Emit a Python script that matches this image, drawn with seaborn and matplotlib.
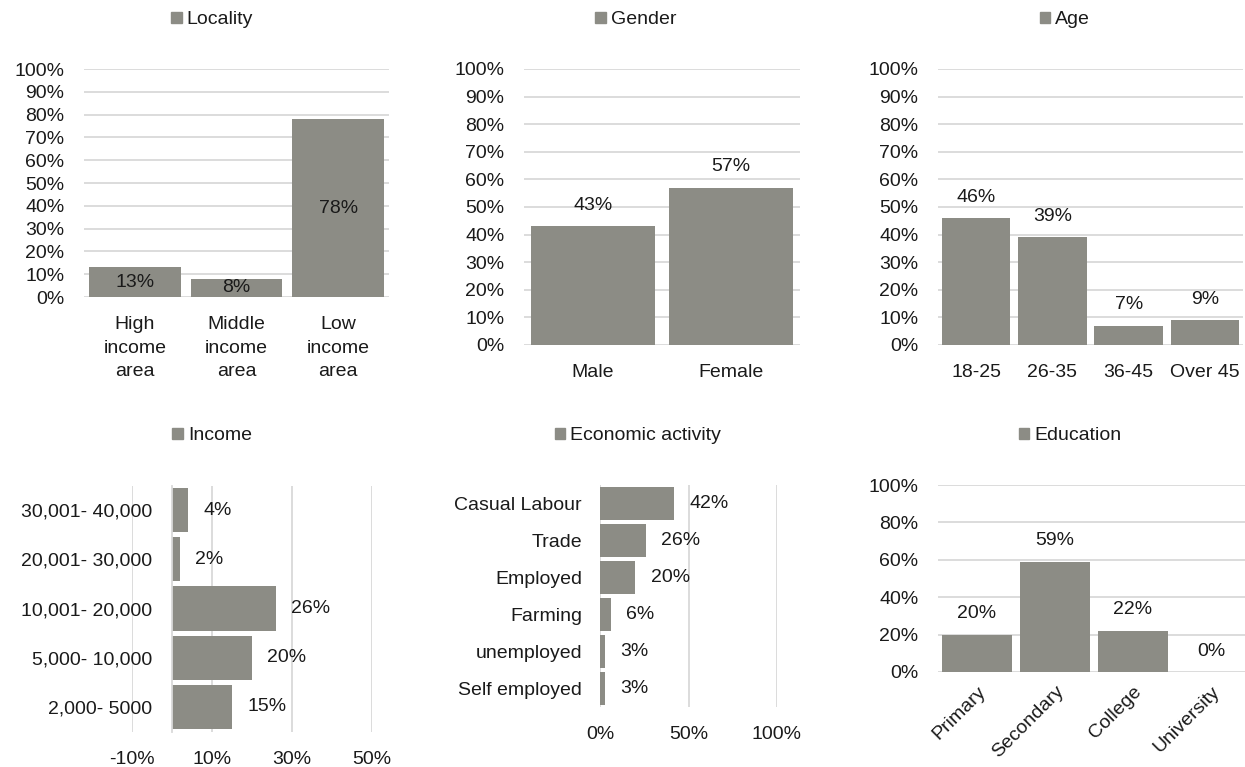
import matplotlib
matplotlib.use("Agg")
import matplotlib.pyplot as plt
import matplotlib.patches as mpatches
from matplotlib.ticker import FuncFormatter
import seaborn as sns

# ---- data ----
locality_cats = ["High\nincome\narea", "Middle\nincome\narea", "Low\nincome\narea"]
locality_vals = [13, 8, 78]
gender_cats = ["Male", "Female"]
gender_vals = [43, 57]
age_cats = ["18-25", "26-35", "36-45", "Over 45"]
age_vals = [46, 39, 7, 9]
income_cats = ["30,001- 40,000", "20,001- 30,000", "10,001- 20,000", "5,000- 10,000", "2,000- 5000"]
income_vals = [4, 2, 26, 20, 15]
econ_cats = ["Casual Labour", "Trade", "Employed", "Farming", "unemployed", "Self employed"]
econ_vals = [42, 26, 20, 6, 3, 3]
edu_cats = ["Primary", "Secondary", "College", "University"]
edu_vals = [20, 59, 22, 0]

sns.set_style("white")
plt.rcParams["font.family"] = ["Liberation Sans", "DejaVu Sans"]
FS = 14
BAR = "#8c8c85"
GRID = "#d9d9d9"
TXT = "#1a1a1a"

W, H = 1245, 767
fig = plt.figure(figsize=(W / 100, H / 100), dpi=100)


def add_ax(left, right, top, bottom):
    return fig.add_axes([left / W, (H - bottom) / H, (right - left) / W, (bottom - top) / H])


pct = FuncFormatter(lambda v, p: f"{v:.0f}%")


def style_common(ax):
    for s in ax.spines.values():
        s.set_visible(False)
    ax.tick_params(length=0, labelsize=FS, colors=TXT)
    ax.set_xlabel("")
    ax.set_ylabel("")
    ax.set_axisbelow(True)


def legend(ax, name, cx, cy):
    h = mpatches.Patch(color=BAR, label=name)
    ax.legend(handles=[h], loc="center", bbox_to_anchor=(cx / W, (H - cy) / H),
              bbox_transform=fig.transFigure, frameon=False, fontsize=FS,
              handlelength=0.55, handleheight=0.55, handletextpad=0.25, borderpad=0,
              labelcolor=TXT)


def vbar(ax, cats, vals, yticks, label_type, name, lc, xpad, rot=0):
    sns.barplot(x=cats, y=vals, ax=ax, color=BAR, width=0.9, saturation=1, linewidth=0)
    style_common(ax)
    ax.set_ylim(0, 100)
    ax.set_yticks(yticks)
    ax.yaxis.set_major_formatter(pct)
    ax.tick_params(axis="y", pad=14)
    ax.tick_params(axis="x", pad=xpad)
    ax.set_xlim(-0.5, len(cats) - 0.5)
    ax.grid(axis="y", color=GRID, linewidth=1.3)
    ax.grid(axis="x", visible=False)
    if rot:
        for t in ax.get_xticklabels():
            t.set_rotation(rot)
            t.set_ha("right")
            t.set_rotation_mode("anchor")
    else:
        for t in ax.get_xticklabels():
            t.set_linespacing(1.5)
            t.set_va("top")
    if label_type == "center":
        ax.bar_label(ax.containers[0], labels=[f"{v}%" for v in vals], label_type="center",
                     fontsize=FS, color=TXT)
    else:
        ax.bar_label(ax.containers[0], labels=[f"{v}%" for v in vals], padding=9,
                     fontsize=FS, color=TXT)
    legend(ax, name, *lc)


def hbar(ax, cats, vals, xlim, xticks, name, lc, ypad, xpad, zero_spine):
    sns.barplot(x=vals, y=cats, ax=ax, color=BAR, width=0.9, saturation=1, linewidth=0, orient="h")
    style_common(ax)
    ax.set_xlim(*xlim)
    ax.set_xticks(xticks)
    ax.xaxis.set_major_formatter(pct)
    ax.grid(axis="x", color=GRID, linewidth=1.3)
    ax.grid(axis="y", visible=False)
    ax.tick_params(axis="y", pad=ypad)
    ax.tick_params(axis="x", pad=xpad)
    if zero_spine:
        ax.spines["left"].set_visible(True)
        ax.spines["left"].set_position(("data", 0))
        ax.spines["left"].set_color(GRID)
        ax.spines["left"].set_linewidth(1.3)
    ax.bar_label(ax.containers[0], labels=[f"{v}%" for v in vals], padding=11,
                 fontsize=FS, color=TXT)
    legend(ax, name, *lc)


ax1 = add_ax(84, 389, 69, 297)
vbar(ax1, locality_cats, locality_vals, range(0, 101, 10), "center", "Locality", (212, 20), 14)

ax2 = add_ax(524, 800, 69, 345)
vbar(ax2, gender_cats, gender_vals, range(0, 101, 10), "edge", "Gender", (636, 20), 14)

ax3 = add_ax(938, 1243, 69, 345)
vbar(ax3, age_cats, age_vals, range(0, 101, 10), "edge", "Age", (1065, 20), 14)

ax4 = add_ax(132, 372, 485.5, 731.5)
hbar(ax4, income_cats, income_vals, (-10, 50), [-10, 10, 30, 50], "Income", (212, 436), 14, 14, True)

ax5 = add_ax(600, 777, 485, 707)
hbar(ax5, econ_cats, econ_vals, (0, 100), [0, 50, 100], "Economic activity", (638, 436), 13, 14, False)

ax6 = add_ax(938, 1250, 485, 672)
vbar(ax6, edu_cats, edu_vals, range(0, 101, 20), "edge", "Education", (1070, 436), 8, rot=45)

fig.savefig("out.png", dpi=100, facecolor="white")
